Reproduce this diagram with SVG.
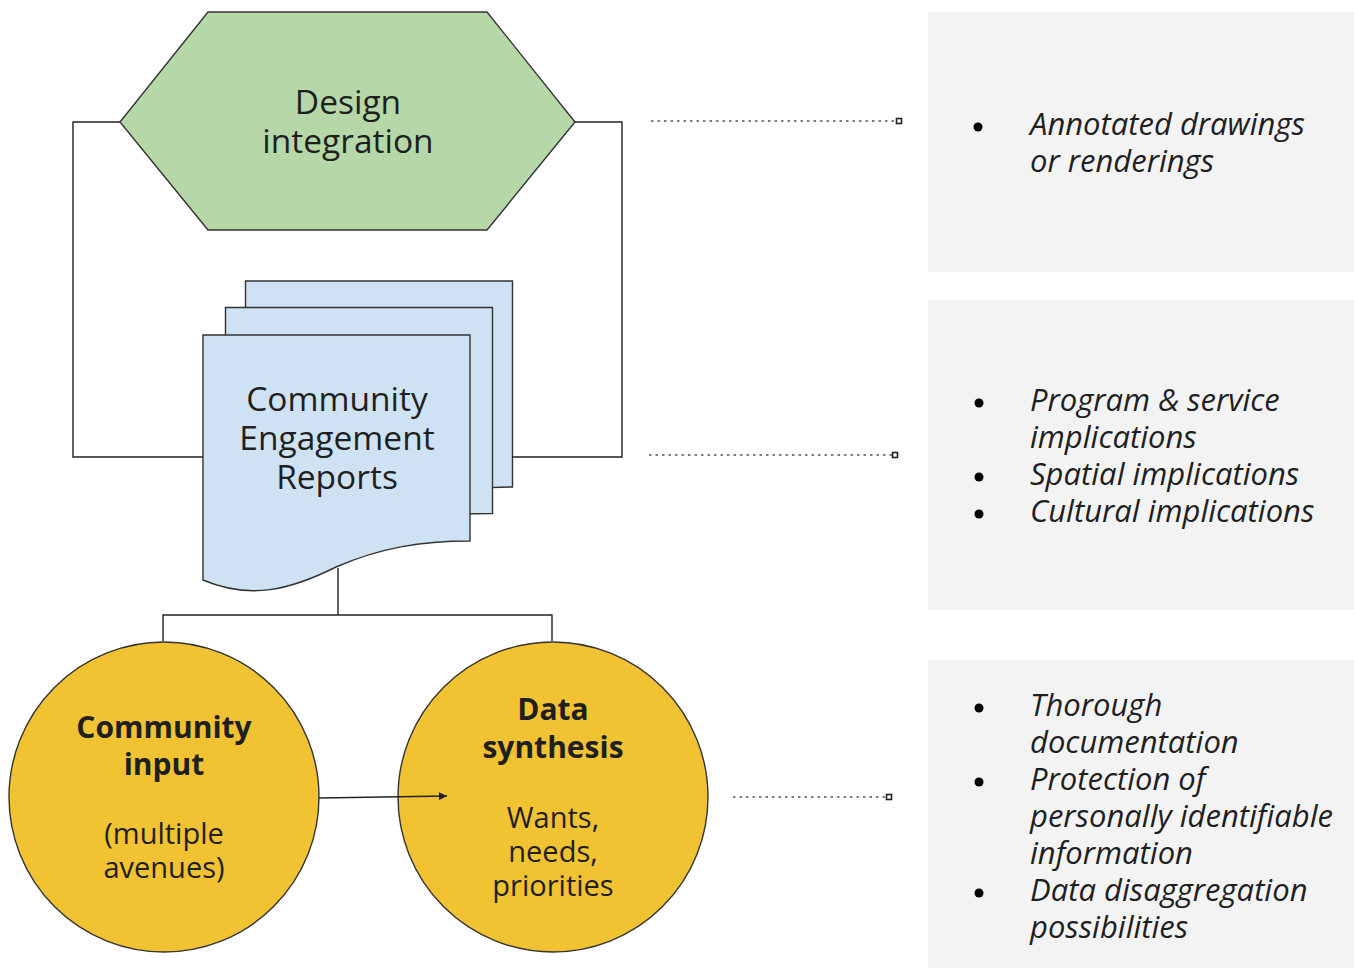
<svg xmlns="http://www.w3.org/2000/svg" width="1354" height="968" viewBox="0 0 1354 968">
  <style>
    .label { font-family: "Open Sans", "Liberation Sans", sans-serif; fill: #1f1f1f; text-anchor: middle; }
    .big { font-size: 33.5px; }
    .title { font-size: 30px; font-weight: bold; }
    .sub { font-size: 29px; }
    .note { font-family: "Open Sans", "Liberation Sans", sans-serif; font-size: 31px; font-style: italic; fill: #1f1f1f; }
    .edge { fill: none; stroke: #222; stroke-width: 1.4; }
    .dots { fill: none; stroke: #555; stroke-width: 1.3; stroke-dasharray: 2.5 4; }
    .tip { fill: #fff; stroke: #222; stroke-width: 1.6; }
    .panel { fill: #f3f3f3; }
    .bullet { fill: #000; }
  </style>
  <defs>
    <marker id="arrow" viewBox="0 0 10 10" refX="10" refY="5" markerWidth="10" markerHeight="8" markerUnits="userSpaceOnUse" orient="auto">
      <path d="M0,0 L10,5 L0,10 Z" fill="#222"/>
    </marker>
    <path id="page" d="M203,335 H470 V541 C420,541 380,548 336,567 C290,590 250,600 203,580 Z" fill="#cfe2f3" stroke="#333" stroke-width="1.4"/>
  </defs>

  <rect width="1354" height="968" fill="#fff"/>

  <!-- side panels -->
  <g id="panel-design">
    <rect class="panel" x="928" y="12" width="426" height="260"/>
    <circle class="bullet" cx="978" cy="127" r="4.5"/>
    <text class="note" x="1030" y="135">Annotated drawings</text>
    <text class="note" x="1030" y="172">or renderings</text>
  </g>
  <g id="panel-reports">
    <rect class="panel" x="928" y="300" width="426" height="310"/>
    <circle class="bullet" cx="979" cy="403" r="4.5"/>
    <text class="note" x="1030" y="411">Program &amp; service</text>
    <text class="note" x="1030" y="448">implications</text>
    <circle class="bullet" cx="979" cy="477" r="4.5"/>
    <text class="note" x="1030" y="485">Spatial implications</text>
    <circle class="bullet" cx="979" cy="514" r="4.5"/>
    <text class="note" x="1030" y="522">Cultural implications</text>
  </g>
  <g id="panel-data">
    <rect class="panel" x="928" y="660" width="426" height="308"/>
    <circle class="bullet" cx="979" cy="708" r="4.5"/>
    <text class="note" x="1030" y="716">Thorough</text>
    <text class="note" x="1030" y="753">documentation</text>
    <circle class="bullet" cx="979" cy="782" r="4.5"/>
    <text class="note" x="1030" y="790">Protection of</text>
    <text class="note" x="1030" y="827">personally identifiable</text>
    <text class="note" x="1030" y="864">information</text>
    <circle class="bullet" cx="979" cy="893" r="4.5"/>
    <text class="note" x="1030" y="901">Data disaggregation</text>
    <text class="note" x="1030" y="938">possibilities</text>
  </g>

  <!-- nodes -->
  <g id="design-integration">
    <polygon points="208,12 487,12 575,122 487,230 208,230 120,122" fill="#b6d7a8" stroke="#333" stroke-width="1.4"/>
    <text class="label big" x="348" y="114">Design</text>
    <text class="label big" x="348" y="153">integration</text>
  </g>

  <g id="engagement-reports">
    <use href="#page" transform="translate(42.5,-54)"/>
    <use href="#page" transform="translate(22.5,-27.5)"/>
    <use href="#page"/>
    <text class="label big" x="337" y="411">Community</text>
    <text class="label big" x="337" y="450">Engagement</text>
    <text class="label big" x="337" y="489">Reports</text>
  </g>

  <g id="community-input">
    <circle cx="164" cy="797" r="155" fill="#f1c232" stroke="#333" stroke-width="1.4"/>
    <text class="label title" x="164" y="738">Community</text>
    <text class="label title" x="164" y="775">input</text>
    <text class="label sub" x="164" y="844">(multiple</text>
    <text class="label sub" x="164" y="878">avenues)</text>
  </g>

  <g id="data-synthesis">
    <circle cx="553" cy="797" r="155" fill="#f1c232" stroke="#333" stroke-width="1.4"/>
    <text class="label title" x="553" y="720">Data</text>
    <text class="label title" x="553" y="758">synthesis</text>
    <text class="label sub" x="553" y="828">Wants,</text>
    <text class="label sub" x="553" y="862">needs,</text>
    <text class="label sub" x="553" y="896">priorities</text>
  </g>

  <!-- connectors, drawn over the shapes -->
  <g id="connectors">
    <path class="edge" d="M120,122 H73 V457 H203"/>
    <path class="edge" d="M575,122 H622 V457 H512"/>
    <path class="edge" d="M338,568 V615"/>
    <path class="edge" d="M163,641 V615 H552 V641"/>
    <path class="edge" d="M319,798 L447,796" marker-end="url(#arrow)"/>
    <path class="dots" d="M651,121 H896"/>
    <rect class="tip" x="896.5" y="118.5" width="5" height="5"/>
    <path class="dots" d="M649,455 H892"/>
    <rect class="tip" x="892.5" y="452.5" width="5" height="5"/>
    <path class="dots" d="M733,797 H886"/>
    <rect class="tip" x="886.5" y="794.5" width="5" height="5"/>
  </g>
</svg>
